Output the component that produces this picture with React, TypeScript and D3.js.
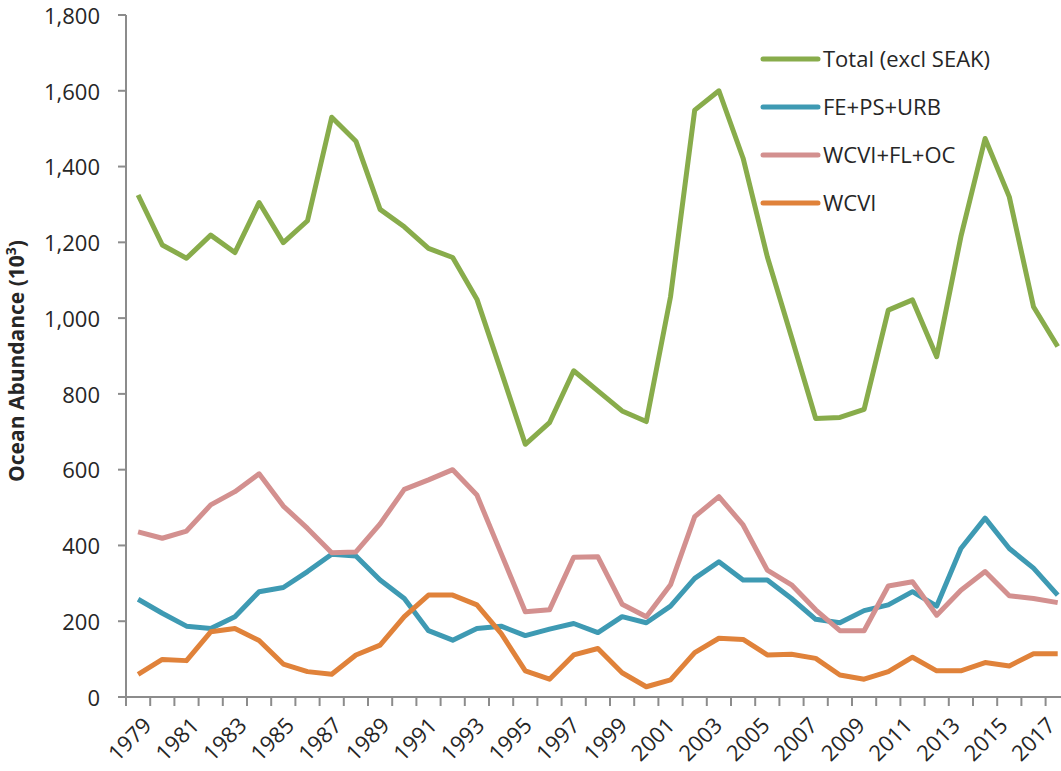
import { scaleBand, scaleLinear, line, format } from "d3"

// categories
const years = [
  1979, 1980, 1981, 1982, 1983, 1984, 1985, 1986, 1987, 1988,
  1989, 1990, 1991, 1992, 1993, 1994, 1995, 1996, 1997, 1998,
  1999, 2000, 2001, 2002, 2003, 2004, 2005, 2006, 2007, 2008,
  2009, 2010, 2011, 2012, 2013, 2014, 2015, 2016, 2017,
]

// series values (thousands)
const total = [
  1325, 1193, 1158, 1219, 1173, 1305, 1199, 1257, 1530, 1467,
  1287, 1241, 1184, 1160, 1050, 860, 667, 724, 861, 808,
  755, 727, 1056, 1549, 1600, 1422, 1162, 950, 735, 738,
  759, 1021, 1048, 898, 1215, 1474, 1320, 1030, 925,
]
const fePsUrb = [
  258, 221, 187, 181, 212, 278, 289, 331, 377, 372,
  309, 260, 175, 150, 181, 187, 162, 179, 194, 170,
  212, 196, 240, 313, 357, 309, 309, 260, 205, 196,
  228, 243, 278, 240, 392, 472, 392, 340, 269,
]
const wcviFlOc = [
  436, 419, 438, 507, 542, 589, 504, 445, 381, 383,
  457, 548, 573, 600, 533, 379, 225, 230, 369, 370,
  245, 212, 296, 476, 529, 454, 335, 296, 230, 175,
  175, 293, 304, 216, 282, 331, 267, 260, 249,
]
const wcvi = [
  60, 99, 96, 172, 181, 149, 87, 67, 60, 111,
  137, 212, 269, 269, 243, 168, 69, 47, 111, 128,
  64, 27, 45, 117, 155, 152, 111, 113, 102, 58,
  47, 67, 105, 69, 69, 91, 82, 114, 114,
]

const seriesNames = ["Total (excl SEAK)", "FE+PS+URB", "WCVI+FL+OC", "WCVI"]
const seriesColors = ["#88AC4B", "#3E9AB3", "#D3908F", "#E0823A"]
const seriesValues = [total, fePsUrb, wcviFlOc, wcvi]

const yTicks = [0, 200, 400, 600, 800, 1000, 1200, 1400, 1600, 1800]

const W = 1061
const H = 771
const font = "'Open Sans', 'Noto Sans', sans-serif"
const axisColor = "#8C8C8C"
const textColor = "#262626"

export default function App() {
  const x = scaleBand<number>().domain(years).range([126, 126 + years.length * 24.2])
  const y = scaleLinear().domain([0, 1800]).range([697, 15])
  const cx = (i: number) => (x(years[i]) as number) + x.bandwidth() / 2

  const path = line<number>()
    .x((_, i) => cx(i))
    .y(d => y(d))

  const fmt = format(",")
  const xLeft = x.range()[0]
  const xRight = x.range()[1]

  return (
    <svg
      width={W}
      height={H}
      style={{ position: "absolute", left: 0, top: 0, background: "#fff" }}
      fontFamily={font}
    >
      {/* y axis */}
      <line x1={xLeft} x2={xLeft} y1={y(1800)} y2={y(0)} stroke={axisColor} strokeWidth={2} />
      {yTicks.map(t => (
        <g key={t}>
          <line x1={xLeft - 8} x2={xLeft} y1={y(t)} y2={y(t)} stroke={axisColor} strokeWidth={2} />
          <text
            x={100}
            y={y(t)}
            dy="0.4em"
            textAnchor="end"
            fontSize={22}
            fill={textColor}
          >
            {fmt(t)}
          </text>
        </g>
      ))}
      <text
        transform={`translate(24, ${(y(0) + y(1800)) / 2 + 5}) rotate(-90)`}
        textAnchor="middle"
        fontSize={21}
        fontWeight="bold"
        fill={textColor}
      >
        Ocean Abundance (10<tspan dy="-8" fontSize={14}>3</tspan><tspan dy="8">)</tspan>
      </text>

      {/* x axis */}
      <line x1={xLeft} x2={xRight} y1={y(0)} y2={y(0)} stroke={axisColor} strokeWidth={2} />
      {years.concat([years[years.length - 1] + 1]).map((yr, i) => {
        const tx = xLeft + i * x.step()
        return <line key={yr} x1={tx} x2={tx} y1={y(0)} y2={y(0) + 9} stroke={axisColor} strokeWidth={2} />
      })}
      {years.map((yr, i) =>
        i % 2 === 0 ? (
          <text
            key={yr}
            transform={`translate(${cx(i) + 4 - i * 0.42}, ${y(0) + 19}) rotate(-45)`}
            textAnchor="end"
            dy="0.7em"
            fontSize={22}
            fill={textColor}
          >
            {yr}
          </text>
        ) : null
      )}

      {/* series */}
      {seriesValues.map((vals, s) => (
        <path
          key={seriesNames[s]}
          d={path(vals) as string}
          fill="none"
          stroke={seriesColors[s]}
          strokeWidth={5}
          strokeLinejoin="round"
        />
      ))}

      {/* legend */}
      {seriesNames.map((name, s) => {
        const ly = 59 + s * 48
        return (
          <g key={name}>
            <line x1={763} x2={818} y1={ly} y2={ly} stroke={seriesColors[s]} strokeWidth={5} strokeLinecap="round" />
            <text x={823} y={ly} dy="0.36em" fontSize={22} fill={textColor}>
              {name}
            </text>
          </g>
        )
      })}
    </svg>
  )
}
